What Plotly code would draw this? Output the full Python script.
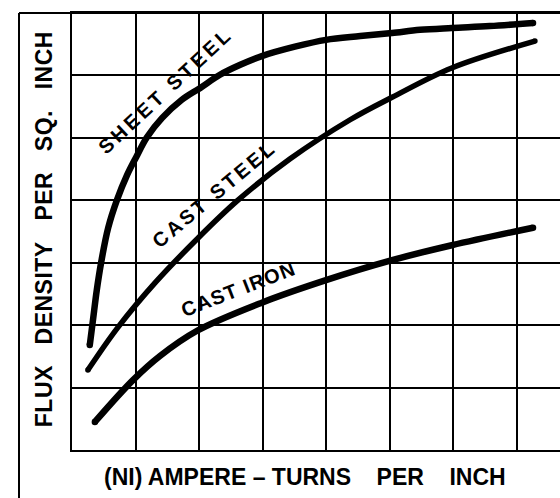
import plotly.graph_objects as go

# Magnetization curves: flux density vs. ampere-turns per inch (grid units)
sheet_steel_x = [0.28, 0.33, 0.39, 0.46, 0.57, 0.71, 0.87, 1.01, 1.18, 1.42, 1.73, 2.02,
                 2.33, 2.65, 2.99, 3.51, 4.00, 4.54, 5.04, 5.48, 5.98, 6.58, 7.26]
sheet_steel_y = [1.68, 2.08, 2.56, 3.01, 3.56, 4.01, 4.41, 4.69, 5.01, 5.32, 5.61, 5.80,
                 6.01, 6.17, 6.31, 6.46, 6.57, 6.63, 6.68, 6.73, 6.76, 6.79, 6.84]

cast_steel_x = [0.25, 0.72, 1.31, 1.97, 2.60, 3.43, 4.38, 5.04, 5.98, 7.29]
cast_steel_y = [1.28, 1.96, 2.68, 3.38, 3.99, 4.66, 5.29, 5.65, 6.12, 6.55]

cast_iron_x = [0.36, 0.96, 1.39, 1.97, 2.99, 4.00, 5.04, 5.98, 7.26]
cast_iron_y = [0.45, 1.12, 1.51, 1.91, 2.36, 2.72, 3.04, 3.28, 3.56]

series_names = ["SHEET STEEL", "CAST STEEL", "CAST IRON"]
label_x = [1.48, 2.24, 2.62]
label_y = [5.76, 4.10, 2.58]
label_angle = [-43, -40, -21]
label_spacing = [3.5, 3, 1.2]

x_title = "(NI) AMPERE – TURNS\u00a0\u00a0\u00a0\u00a0PER\u00a0\u00a0\u00a0\u00a0INCH"
y_title = "FLUX\u00a0\u00a0\u00a0DENSITY\u00a0\u00a0\u00a0PER\u00a0\u00a0\u00a0SQ.\u00a0\u00a0\u00a0INCH"

FONT = "Liberation Sans"
INK = "black"

fig = go.Figure()

curves = [
    (sheet_steel_x, sheet_steel_y, 6.5),
    (cast_steel_x, cast_steel_y, 5.5),
    (cast_iron_x, cast_iron_y, 6.5),
]
for (xs, ys, w), name in zip(curves, series_names):
    fig.add_trace(go.Scatter(
        x=xs, y=ys, mode="lines", name=name,
        line=dict(color=INK, width=w, shape="spline", smoothing=1.0),
        hoverinfo="skip", showlegend=False,
    ))
    # rounded pen ends
    fig.add_trace(go.Scatter(
        x=[xs[0], xs[-1]], y=[ys[0], ys[-1]], mode="markers",
        marker=dict(color=INK, size=w, line=dict(width=0)),
        hoverinfo="skip", showlegend=False,
    ))

annotations = []
for name, ax, ay, ang, sp in zip(series_names, label_x, label_y, label_angle, label_spacing):
    annotations.append(dict(
        x=ax, y=ay, xref="x", yref="y", showarrow=False,
        text=f'<span style="letter-spacing:{sp}px">{name}</span>',
        textangle=ang, xanchor="center", yanchor="middle",
        font=dict(family=FONT, size=20, color=INK, weight="bold"),
    ))

annotations.append(dict(
    x=0.4775, y=-0.062, xref="paper", yref="paper", showarrow=False,
    text=x_title, xanchor="center", yanchor="middle",
    font=dict(family=FONT, size=23, color=INK, weight="bold"),
))
annotations.append(dict(
    x=-0.057, y=0.5057, xref="paper", yref="paper", showarrow=False,
    text=f'<span style="letter-spacing:0.5px">{y_title}</span>',
    textangle=-90, xanchor="center", yanchor="middle",
    font=dict(family=FONT, size=23, color=INK, weight="bold"),
))

# outer drawing frame (left and top edges)
shapes = [
    dict(type="line", xref="paper", yref="paper", x0=-0.1086, x1=-0.1086, y0=1.0, y1=-0.115,
         line=dict(color=INK, width=2)),
    dict(type="line", xref="paper", yref="paper", x0=-0.1086, x1=1.0, y0=1.0, y1=1.0,
         line=dict(color=INK, width=2)),
]

fig.update_layout(
    width=560, height=498,
    margin=dict(l=72, r=0, t=13, b=48),
    paper_bgcolor="white", plot_bgcolor="white",
    annotations=annotations, shapes=shapes,
    showlegend=False,
    xaxis=dict(range=[0, 488 / 63.5], tick0=0, dtick=1, showgrid=True, gridcolor=INK,
               gridwidth=2, zeroline=False, showticklabels=False, ticks="",
               showline=True, linecolor=INK, linewidth=2, mirror=True, fixedrange=True),
    yaxis=dict(range=[0, 7], tick0=0, dtick=1, showgrid=True, gridcolor=INK,
               gridwidth=2, zeroline=False, showticklabels=False, ticks="",
               showline=True, linecolor=INK, linewidth=2, mirror=False, fixedrange=True),
)

fig.write_html("out.html")
